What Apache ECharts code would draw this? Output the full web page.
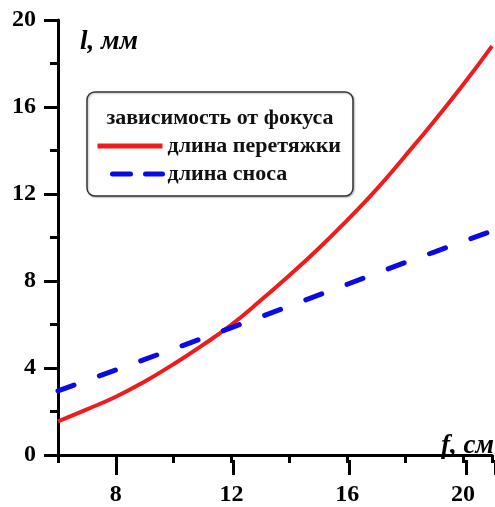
<!DOCTYPE html>
<html>
<head>
<meta charset="utf-8">
<script src="https://cdn.jsdelivr.net/npm/echarts@6/dist/echarts.min.js"></script>
<style>
  html, body { margin: 0; padding: 0; background: #fff; }
  #chart { width: 495px; height: 507px; }
</style>
</head>
<body>
<div id="chart"></div>
<script>
// фокусное расстояние, см
const focus = [6, 7, 8, 9, 10, 11, 12, 13, 14, 15, 16, 17, 18, 19, 20, 21]
// длина перетяжки, мм
const waistLength = [1.55, 2.1, 2.68, 3.38, 4.18, 5.05, 6.0, 7.1, 8.26, 9.48, 10.8, 12.2, 13.75, 15.35, 17.02, 18.8]
// длина сноса, мм
const driftLength = [2.95, 3.43, 3.91, 4.4, 4.88, 5.37, 5.86, 6.35, 6.85, 7.35, 7.85, 8.35, 8.85, 9.33, 9.82, 10.3]
const xTickLabels = [8, 12, 16, 20]
const yTickLabels = [0, 4, 8, 12, 16, 20]

const seriesNames = ['длина перетяжки', 'длина сноса']
const legendTitle = 'зависимость от фокуса'

const font = 'Liberation Serif'
const chart = echarts.init(document.getElementById('chart'))

// размеры сетки
const gLeft = 58
const gTop = 20
const gHeight = 440
const unit = 29.33
const gWidth = 15 * unit

const option = {
  animation: false,
  grid: [
    { left: gLeft, top: gTop, width: gWidth, height: gHeight },
    // вторая сетка только для длинных делений (8, 12, 16, 20)
    { left: gLeft + 2 * unit, top: gTop, width: gWidth - 2 * unit, height: gHeight }
  ],
  xAxis: [
    {
      type: 'value', gridIndex: 0, min: 6, max: 21, interval: 2,
      axisLine: { lineStyle: { color: '#000', width: 3 } },
      axisTick: { length: 8, lineStyle: { color: '#000', width: 3 } },
      axisLabel: {
        margin: 28,
        color: '#000',
        fontFamily: font,
        fontWeight: 'bold',
        fontSize: 24,
        formatter: v => (xTickLabels.includes(v) ? String(v) : '')
      },
      splitLine: { show: false }
    },
    {
      type: 'value', gridIndex: 1, min: 8, max: 21, interval: 4,
      axisLine: { show: false },
      axisTick: { length: 15, lineStyle: { color: '#000', width: 3 } },
      axisLabel: { show: false },
      splitLine: { show: false }
    }
  ],
  yAxis: [
    {
      type: 'value', gridIndex: 0, min: 0, max: 20, interval: 4,
      axisLine: { lineStyle: { color: '#000', width: 3 } },
      axisTick: { length: 14, lineStyle: { color: '#000', width: 3 } },
      minorTick: { show: true, splitNumber: 2, length: 8, lineStyle: { color: '#000', width: 3 } },
      axisLabel: {
        margin: 22,
        color: '#000',
        fontFamily: font,
        fontWeight: 'bold',
        fontSize: 24,
        formatter: v => (yTickLabels.includes(v) ? String(v) : '')
      },
      splitLine: { show: false }
    },
    { type: 'value', gridIndex: 1, min: 0, max: 20, show: false }
  ],
  legend: {
    orient: 'vertical',
    left: 95,
    top: 135,
    z: 20,
    padding: 0,
    itemGap: 6,
    itemWidth: 65,
    itemHeight: 14,
    itemStyle: { opacity: 0 },
    textStyle: { color: '#111', fontFamily: font, fontWeight: 'bold', fontSize: 22 },
    data: [
      { name: seriesNames[0], lineStyle: { width: 5 } },
      { name: seriesNames[1], lineStyle: { width: 5, type: [18, 15], dashOffset: 18 } }
    ]
  },
  graphic: [
    {
      type: 'rect',
      shape: { x: 87, y: 92, width: 266, height: 104, r: 8 },
      style: { fill: '#fff', stroke: '#333', lineWidth: 1.5, shadowColor: 'rgba(0,0,0,0.25)', shadowBlur: 2, shadowOffsetX: 1, shadowOffsetY: 1 },
      z: 1
    },
    {
      type: 'text', x: 220, y: 118, z: 11,
      style: { text: legendTitle, fill: '#111', font: 'bold 22px "Liberation Serif"', align: 'center', verticalAlign: 'middle' }
    },
    {
      type: 'text', x: 80, y: 42, z: 11,
      style: { text: 'l, мм', fill: '#000', font: 'italic bold 27px "Liberation Serif"', align: 'left', verticalAlign: 'middle' }
    },
    {
      type: 'text', x: 494, y: 446, z: 11,
      style: { text: 'f, см', fill: '#000', font: 'italic bold 27px "Liberation Serif"', align: 'right', verticalAlign: 'middle' }
    }
  ],
  series: [
    {
      name: seriesNames[0],
      type: 'line',
      xAxisIndex: 0, yAxisIndex: 0,
      symbol: 'none',
      smooth: true,
      lineStyle: { color: '#ee1c1c', width: 4 },
      itemStyle: { color: '#ee1c1c' },
      data: focus.map((f, i) => [f, waistLength[i]])
    },
    {
      name: seriesNames[1],
      type: 'line',
      xAxisIndex: 0, yAxisIndex: 0,
      symbol: 'none',
      lineStyle: { color: '#0a0ae6', width: 5, type: [17, 27], cap: 'round' },
      itemStyle: { color: '#0a0ae6' },
      data: focus.map((f, i) => [f, driftLength[i]])
    }
  ]
}

chart.setOption(option)
</script>
</body>
</html>
